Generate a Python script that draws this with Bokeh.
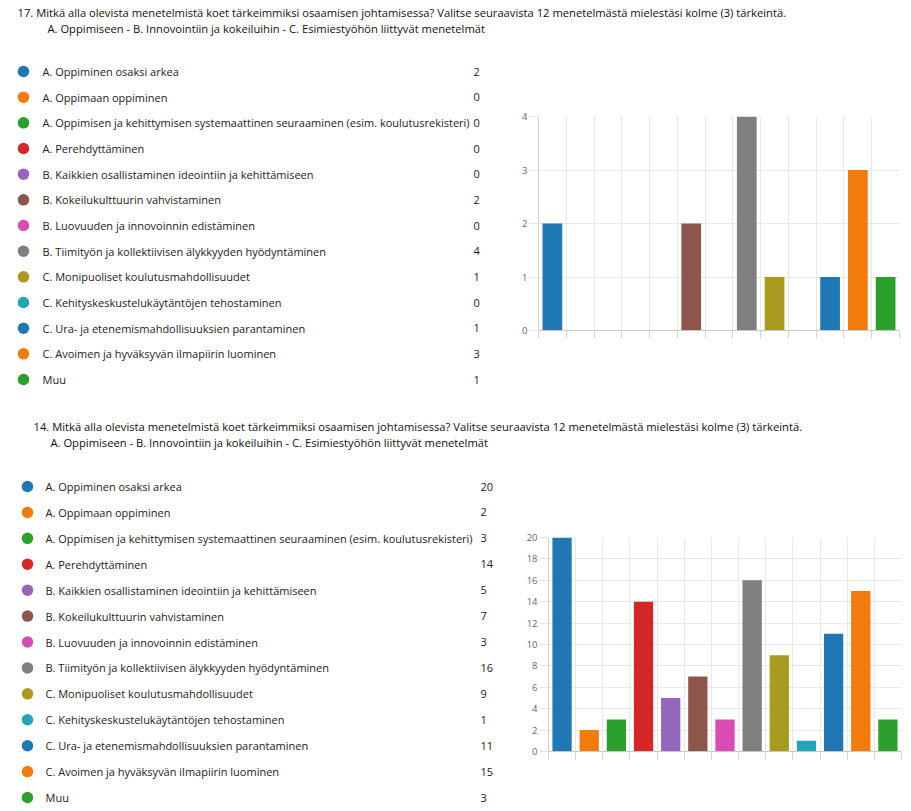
from bokeh.plotting import figure
from bokeh.layouts import column, row
from bokeh.models import Range1d, FixedTicker, ColumnDataSource
from bokeh.core.properties import value
from bokeh.embed import file_html
from bokeh.resources import INLINE

# ---------------- data ----------------
categories = [
    "A. Oppiminen osaksi arkea",
    "A. Oppimaan oppiminen",
    "A. Oppimisen ja kehittymisen systemaattinen seuraaminen (esim. koulutusrekisteri)",
    "A. Perehdyttäminen",
    "B. Kaikkien osallistaminen ideointiin ja kehittämiseen",
    "B. Kokeilukulttuurin vahvistaminen",
    "B. Luovuuden ja innovoinnin edistäminen",
    "B. Tiimityön ja kollektiivisen älykkyyden hyödyntäminen",
    "C. Monipuoliset koulutusmahdollisuudet",
    "C. Kehityskeskustelukäytäntöjen tehostaminen",
    "C. Ura- ja etenemismahdollisuuksien parantaminen",
    "C. Avoimen ja hyväksyvän ilmapiirin luominen",
    "Muu",
]
values_q17 = [2, 0, 0, 0, 0, 2, 0, 4, 1, 0, 1, 3, 1]
values_q14 = [20, 2, 3, 14, 5, 7, 3, 16, 9, 1, 11, 15, 3]
colors = ["#1f77b4", "#f27b0c", "#2ca02c", "#d62728", "#9467bd", "#8c564b",
          "#d84cb4", "#7f7f7f", "#a89b1f", "#20a6b6", "#1f77b4", "#f27b0c", "#2ca02c"]

title_q17 = "17. Mitkä alla olevista menetelmistä koet tärkeimmiksi osaamisen johtamisessa? Valitse seuraavista 12 menetelmästä mielestäsi kolme (3) tärkeintä."
title_q14 = "14. Mitkä alla olevista menetelmistä koet tärkeimmiksi osaamisen johtamisessa? Valitse seuraavista 12 menetelmästä mielestäsi kolme (3) tärkeintä."
subtitle = "A. Oppimiseen - B. Innovointiin ja kokeiluihin - C. Esimiestyöhön liittyvät menetelmät"
yticks_q17 = [0, 1, 2, 3, 4]
yticks_q14 = [0, 2, 4, 6, 8, 10, 12, 14, 16, 18, 20]

TITLE_FONT = "Open Sans"
LEGEND_FONT = "Open Sans"
TOTAL_W = 903


def text_fig(w, h):
    p = figure(width=w, height=h, x_range=Range1d(0, w), y_range=Range1d(h, 0),
               output_backend="svg", toolbar_location=None, min_border=0,
               frame_align=False)
    p.axis.visible = False
    p.grid.visible = False
    p.outline_line_color = None
    return p


def title_fig(w, h, title, tx, ty, sx, sy):
    p = text_fig(w, h)
    p.text(x=[tx], y=[ty], text=[title], text_font=value(TITLE_FONT),
           text_font_size="11.2px", text_baseline="middle", text_color="#111111")
    p.text(x=[sx], y=[sy], text=[subtitle], text_font=value(TITLE_FONT),
           text_font_size="11.2px", text_baseline="middle", text_color="#111111")
    return p


def legend_fig(w, h, vals, cx, lx, vx, y0, dy):
    p = text_fig(w, h)
    ys = [y0 + i * dy for i in range(len(categories))]
    src = ColumnDataSource(dict(y=ys, lab=categories, val=[str(v) for v in vals], c=colors,
                                cx=[cx] * len(ys), lx=[lx] * len(ys), vx=[vx] * len(ys)))
    p.scatter(x="cx", y="y", source=src, size=11.5, fill_color="c", line_color=None)
    p.text(x="lx", y="y", text="lab", source=src, text_font=value(LEGEND_FONT),
           text_font_size="11px", text_baseline="middle", text_color="#222222")
    p.text(x="vx", y="y", text="val", source=src, text_font=value(LEGEND_FONT),
           text_font_size="11px", text_baseline="middle", text_color="#222222")
    return p


def bar_fig(w, h, vals, ymax, yticks, mb_left, mb_right, mb_top, mb_bottom):
    n = len(vals)
    p = figure(width=w, height=h, x_range=Range1d(0, n), y_range=Range1d(0, ymax),
               output_backend="svg", toolbar_location=None, frame_align=False,
               min_border_left=mb_left, min_border_right=mb_right,
               min_border_top=mb_top, min_border_bottom=mb_bottom)
    p.outline_line_color = None
    xs = [i + 0.5 for i in range(n)]
    p.vbar(x=xs, top=vals, bottom=0, width=0.71, fill_color=colors, line_color=None)
    bounds = list(range(n + 1))
    p.xaxis.ticker = FixedTicker(ticks=bounds)
    p.xaxis.major_label_overrides = {b: "" for b in bounds}
    p.xaxis.major_label_standoff = 0
    p.xaxis.major_tick_out = 8
    p.xaxis.major_tick_in = 0
    p.xaxis.minor_tick_line_color = None
    p.xaxis.axis_line_color = "#c8c8c8"
    p.xaxis.major_tick_line_color = "#d4d4d4"
    p.yaxis.ticker = FixedTicker(ticks=yticks)
    p.yaxis.major_tick_out = 9
    p.yaxis.major_tick_in = 0
    p.yaxis.minor_tick_line_color = None
    p.yaxis.axis_line_color = "#d0d0d0"
    p.yaxis.major_tick_line_color = "#e4e4e4"
    p.yaxis.major_label_standoff = 2
    p.yaxis.major_label_text_font = LEGEND_FONT
    p.yaxis.major_label_text_font_size = "9.5px"
    p.yaxis.major_label_text_color = "#666666"
    p.xgrid.ticker = FixedTicker(ticks=bounds)
    p.grid.grid_line_color = "#e8e8e8"
    return p


# ---------------- section 1 (question 17) ----------------
t1 = title_fig(TOTAL_W, 50, title_q17, 17, 12, 47, 28)
leg1 = legend_fig(508, 355, values_q17, 23, 42, 473, 21, 25.67)
bar1 = bar_fig(395, 355, values_q17, 4, yticks_q17, 30, 4, 66, 75)

# ---------------- section 2 (question 14) ----------------
t2 = title_fig(TOTAL_W, 55, title_q14, 33, 21, 50, 37)
leg2 = legend_fig(518, 349, values_q14, 27, 45, 480, 26, 25.92)
bar2 = bar_fig(385, 349, values_q14, 20, yticks_q14, 30, 2, 77, 58)

layout = column(t1, row(leg1, bar1), t2, row(leg2, bar2))

open("out.html", "w").write(file_html(layout, INLINE))
